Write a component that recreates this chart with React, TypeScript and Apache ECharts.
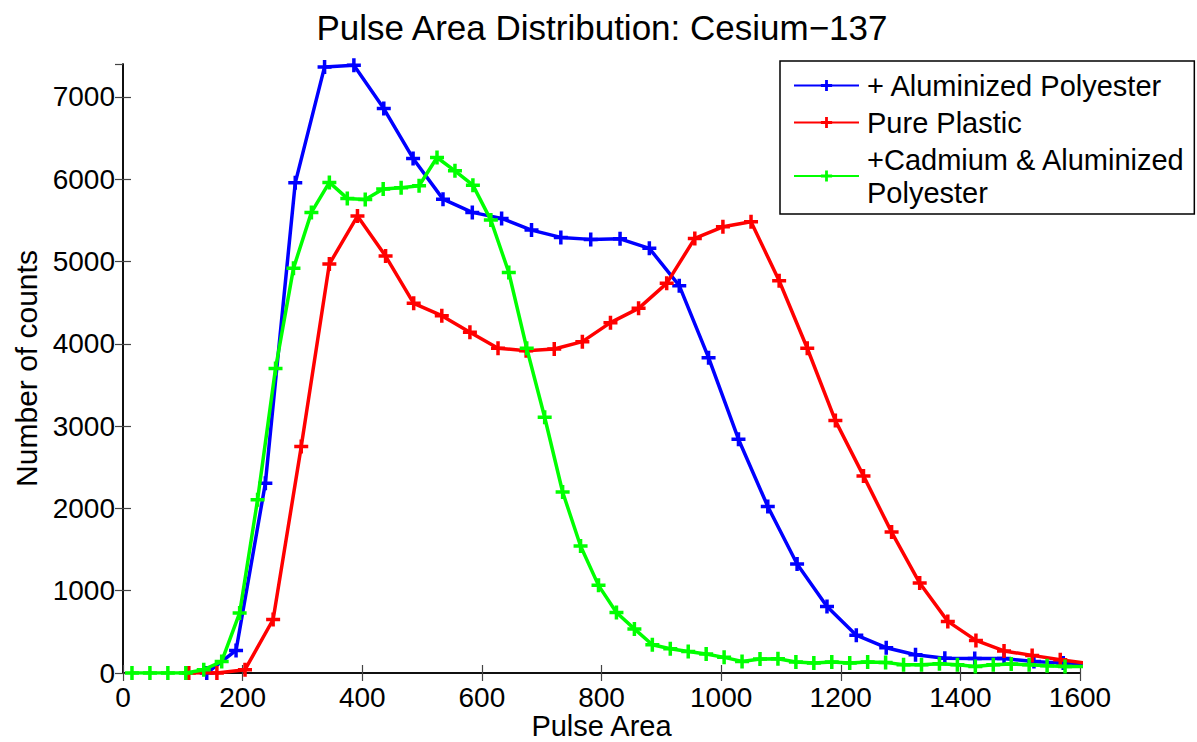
import React, { useEffect, useRef } from "react";
import * as echarts from "echarts";

const TITLE = "Pulse Area Distribution: Cesium\u2212137";
const X_NAME = "Pulse Area";
const Y_NAME = "Number of counts";

const SERIES_NAMES = [
  "+ Aluminized Polyester",
  "Pure Plastic",
  "+Cadmium & Aluminized\nPolyester",
];
const COLORS = ["#0000ff", "#ff0000", "#00ff00"];

const blueX = [140, 189, 238, 288, 337, 386, 436, 485, 535, 584, 633, 683, 732, 782, 831, 880, 930, 979, 1029, 1078, 1127, 1177, 1226, 1276, 1325, 1374, 1424, 1473, 1523, 1572, 1621];
const blueY = [0, 274, 2306, 5956, 7365, 7385, 6859, 6252, 5758, 5597, 5524, 5382, 5293, 5269, 5276, 5160, 4706, 3832, 2841, 2023, 1325, 809, 460, 307, 222, 178, 176, 176, 140, 120, 100];

const redX = [110, 157, 204, 251, 298, 345, 392, 439, 486, 533, 580, 627, 674, 721, 768, 815, 862, 909, 956, 1003, 1050, 1097, 1144, 1191, 1238, 1285, 1332, 1379, 1426, 1473, 1520, 1567, 1614];
const redY = [0, 0, 40, 650, 2751, 4969, 5552, 5066, 4492, 4342, 4140, 3946, 3917, 3937, 4026, 4257, 4431, 4735, 5281, 5422, 5483, 4766, 3946, 3067, 2395, 1712, 1093, 627, 396, 268, 214, 160, 115];

const greenX = [15, 45, 75, 105, 135, 165, 195, 225, 255, 285, 315, 345, 375, 405, 435, 465, 495, 525, 555, 585, 615, 645, 675, 705, 735, 765, 795, 825, 855, 885, 915, 945, 975, 1005, 1035, 1065, 1095, 1125, 1155, 1185, 1215, 1245, 1275, 1305, 1335, 1365, 1395, 1425, 1455, 1485, 1515, 1545, 1575, 1605];
const greenY = [0, 0, 0, 0, 40, 140, 730, 2104, 3700, 4917, 5597, 5961, 5767, 5754, 5880, 5896, 5920, 6264, 6102, 5928, 5503, 4868, 3946, 3108, 2199, 1543, 1065, 735, 536, 344, 295, 262, 230, 190, 141, 170, 174, 133, 121, 133, 121, 133, 129, 101, 101, 113, 101, 80, 101, 109, 101, 89, 80, 80];

const X_MIN = 0;
const X_MAX = 1600;
const X_STEP = 200;
const Y_MIN = 0;
const Y_MAX = 7400;
const Y_STEP = 1000;

const PLUS = "path://M4.5,0h3v4.5h4.5v3h-4.5v4.5h-3v-4.5h-4.5v-3h4.5z";
const FONT = "'Liberation Sans', Arial, Helvetica, sans-serif";

function zip(xs: number[], ys: number[]) {
  return xs.map((x, i) => [x, ys[i]]);
}

export default function App() {
  const ref = useRef<HTMLDivElement>(null);
  useEffect(() => {
    if (!ref.current) return;
    const chart = echarts.init(ref.current, undefined, { renderer: "svg" });
    const axisLine = { show: true, lineStyle: { color: "#000", width: 1.5 } };
    const tick = { show: true, inside: true, length: 8, lineStyle: { color: "#444", width: 1.2 } };
    const label = { fontSize: 28, color: "#000", fontFamily: FONT, formatter: (v: number) => String(v) };
    const datas = [zip(blueX, blueY), zip(redX, redY), zip(greenX, greenY)];
    chart.setOption({
      animation: false,
      backgroundColor: "#fff",
      title: {
        text: TITLE,
        left: 602,
        textAlign: "center",
        top: 10,
        padding: 0,
        textStyle: { fontSize: 35, fontWeight: "normal", color: "#000", fontFamily: FONT },
      },
      grid: { left: 123, right: 117, top: 64, bottom: 69, containLabel: false, outerBoundsMode: "none" },
      xAxis: [
        {
          type: "value", min: X_MIN, max: X_MAX, interval: X_STEP, position: "bottom",
          axisLine, axisTick: tick, splitLine: { show: false },
          axisLabel: { ...label, margin: 10 },
          name: X_NAME, nameLocation: "middle", nameGap: 38, nameMoveOverlap: false,
          nameTextStyle: { fontSize: 29, lineHeight: 29, color: "#000", fontFamily: FONT },
        },
        {
          type: "value", min: X_MIN, max: X_MAX, interval: X_STEP, position: "top",
          axisLine, axisTick: tick, splitLine: { show: false }, axisLabel: { show: false },
        },
      ],
      yAxis: [
        {
          type: "value", min: Y_MIN, max: Y_MAX, interval: Y_STEP, position: "left",
          axisLine, axisTick: tick, splitLine: { show: false },
          axisLabel: { ...label, margin: 8, showMaxLabel: false },
          name: Y_NAME, nameLocation: "middle", nameGap: 80,
          nameTextStyle: { fontSize: 30, color: "#000", fontFamily: FONT },
        },
        {
          type: "value", min: Y_MIN, max: Y_MAX, interval: Y_STEP, position: "right",
          axisLine, axisTick: tick, splitLine: { show: false }, axisLabel: { show: false },
        },
      ],
      legend: {
        orient: "vertical",
        left: 780,
        top: 61,
        padding: [8, 9, 5, 13],
        itemGap: 4,
        itemWidth: 65,
        itemHeight: 14,
        backgroundColor: "#fff",
        borderColor: "#000",
        borderWidth: 1.5,
        borderRadius: 0,
        textStyle: { fontSize: 29, lineHeight: 33, color: "#000", fontFamily: FONT, padding: [0, 0, 0, 3] },
        data: SERIES_NAMES,
      },
      series: SERIES_NAMES.map((name, i) => ({
        name,
        type: "line",
        xAxisIndex: 0,
        yAxisIndex: 0,
        data: datas[i],
        symbol: PLUS,
        symbolSize: 14,
        showAllSymbol: true,
        clip: true,
        color: COLORS[i],
        itemStyle: { color: COLORS[i] },
        lineStyle: { color: COLORS[i], width: 3.5 },
        z: 2 + i,
      })),
    });
    return () => chart.dispose();
  }, []);
  return <div ref={ref} style={{ width: 1197, height: 742, position: "absolute", left: 0, top: 0 }} />;
}
